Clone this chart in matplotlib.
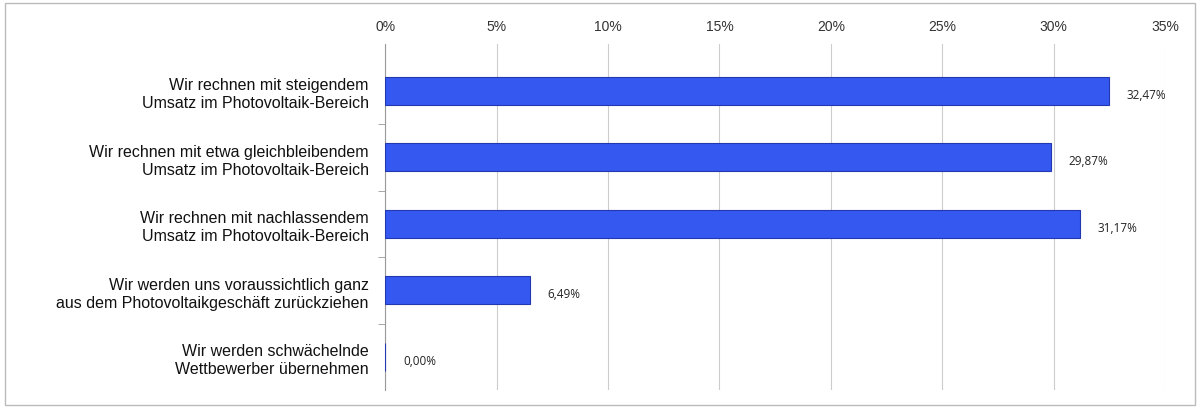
import matplotlib.pyplot as plt
import matplotlib.patches as mpatches

plt.rcParams['font.family'] = ['Liberation Sans', 'DejaVu Sans']

categories = [
    'Wir rechnen mit steigendem\nUmsatz im Photovoltaik-Bereich',
    'Wir rechnen mit etwa gleichbleibendem\nUmsatz im Photovoltaik-Bereich',
    'Wir rechnen mit nachlassendem\nUmsatz im Photovoltaik-Bereich',
    'Wir werden uns voraussichtlich ganz\naus dem Photovoltaikgeschäft zurückziehen',
    'Wir werden schwächelnde\nWettbewerber übernehmen',
]
values = [32.47, 29.87, 31.17, 6.49, 0.00]
value_labels = ['32,47%', '29,87%', '31,17%', '6,49%', '0,00%']
ticks = [0, 5, 10, 15, 20, 25, 30, 35]

fig = plt.figure(figsize=(12, 4.1), dpi=100)
fig.patch.set_facecolor('white')
fig.add_artist(mpatches.Rectangle((0.004, 0.01), 0.992, 0.98, transform=fig.transFigure,
                                  fill=False, edgecolor='#bbbbbb', linewidth=1))
ax = fig.add_axes([0.321, 0.046, 0.65, 0.844])

y = list(range(len(categories)))
ax.barh(y, values, height=0.42, color='#3558f0', edgecolor='#2238b0', linewidth=0.8, zorder=3)
for yi, v, lab in zip(y, values, value_labels):
    ax.text(v + 0.8, yi + 0.05, lab, va='center', ha='left', fontsize=8.5, color='#222222',
            family=['Open Sans', 'DejaVu Sans'])

ax.set_xlim(0, 35)
ax.set_ylim(len(categories) - 0.5, -0.7)
ax.set_xticks(ticks)
ax.set_xticklabels([f'{t}%' for t in ticks], fontsize=10, color='#333333')
ax.xaxis.tick_top()
ax.tick_params(axis='x', length=0, pad=8)
ax.grid(axis='x', color='#cccccc', linewidth=0.8, zorder=0)

ax.set_yticks(y)
ax.set_yticklabels(categories, fontsize=11.5, color='#111111', ha='right', linespacing=1.25)
ax.set_yticks([i + 0.5 for i in y[:-1]], minor=True)
ax.tick_params(axis='y', which='major', length=0, pad=12)
ax.tick_params(axis='y', which='minor', length=5, color='#999999')

for s in ['right', 'bottom', 'top']:
    ax.spines[s].set_visible(False)
ax.spines['left'].set_color('#999999')

fig.savefig('out.png', dpi=100, facecolor='white')
